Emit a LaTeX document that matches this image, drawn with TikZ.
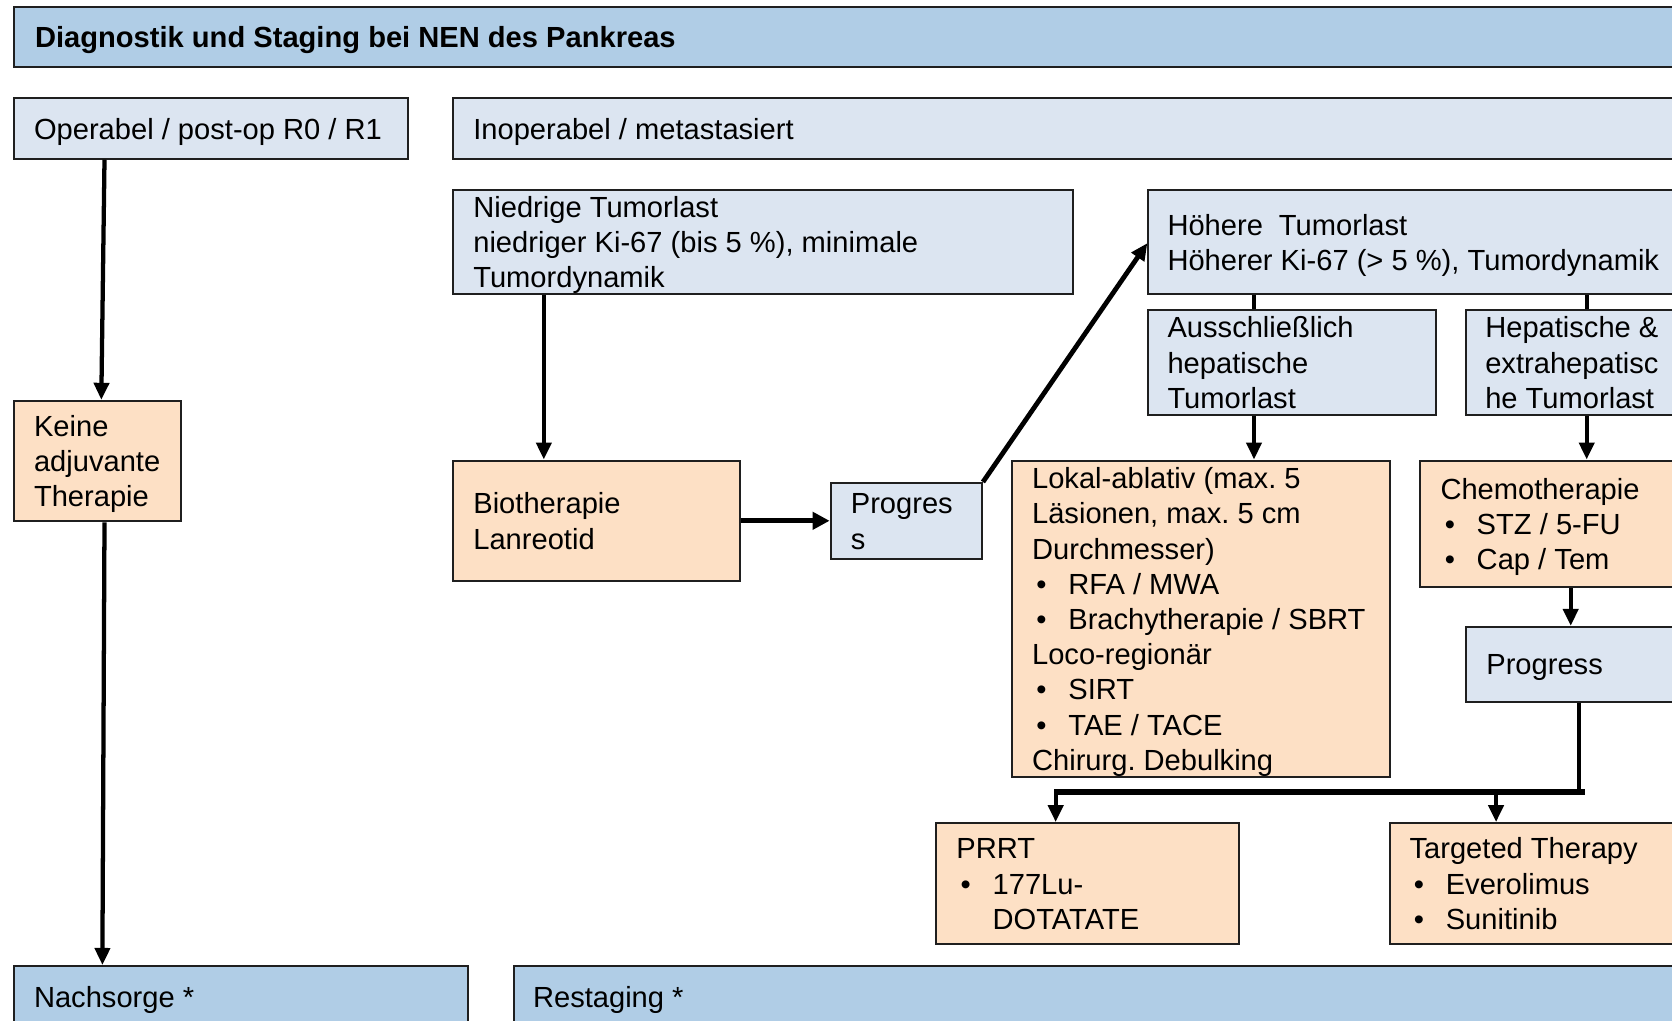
\documentclass[tikz,border=0pt]{standalone}
\usepackage{fontspec}
\setmainfont{Liberation Sans}
\usetikzlibrary{arrows.meta}
\frenchspacing
\newcommand\fs{\fontsize{27.3}{33}\selectfont}
\newcommand\bul{\makebox[34pt][l]{\hspace{4pt}•}}
\newcommand\indbul{\hspace*{34pt}}
% width, number of lines, content
\newcommand\bx[3]{\raisebox{0pt}[26pt][\dimexpr 33pt*(#2-1)+6pt\relax]{\makebox[#1pt][l]{\begin{tabular}[t]{@{}l@{}}#3\end{tabular}}}}
\definecolor{lb}{HTML}{DCE5F1}
\definecolor{hb}{HTML}{B0CDE6}
\definecolor{ob}{HTML}{FDE0C5}
\tikzset{
  box/.style={draw=black!88, line width=1.8pt, anchor=north west, inner xsep=19pt, inner ysep=0pt, font=\fs, text=black},
  lbox/.style={box, fill=lb},
  hbox/.style={box, fill=hb},
  obox/.style={box, fill=ob},
  arr/.style={line width=4pt, -{Triangle[length=16pt,width=14pt]}},
  con/.style={line width=4pt},
}
\begin{document}
\begin{tikzpicture}[x=1pt,y=-1pt]
\useasboundingbox (0,0) rectangle (1568,957);
\clip (0,0) rectangle (1568,957);
% boxes
\node[hbox, minimum width=1600pt, minimum height=56pt, inner xsep=20pt] (title) at (12,6) {\bx{1560}{1}{\bfseries Diagnostik und Staging bei NEN des Pankreas}};
\node[lbox, minimum width=370pt, minimum height=57pt] (oper) at (12,91) {\bx{332}{1}{Operabel / post-op R0 / R1}};
\node[lbox, minimum width=1200pt, minimum height=57pt] (inop) at (424,91) {\bx{1162}{1}{Inoperabel / metastasiert}};
\node[lbox, minimum width=581pt, minimum height=98pt] (nied) at (424,177) {\bx{543}{3}{Niedrige Tumorlast\\niedriger Ki-67 (bis 5 \%), minimale\\Tumordynamik}};
\node[lbox, minimum width=540pt, minimum height=98pt, inner xsep=18pt] (hoeh) at (1076,177) {\bx{504}{2}{Höhere\hspace{15pt}Tumorlast\\Höherer Ki-67 (> 5 \%), Tumordynamik}};
\node[lbox, minimum width=270pt, minimum height=98pt, inner xsep=18pt] (auss) at (1076,290) {\bx{234}{3}{Ausschließlich\\hepatische\\Tumorlast}};
\node[lbox, minimum width=240pt, minimum height=98pt, inner xsep=18pt] (hepa) at (1374,290) {\bx{204}{3}{Hepatische \&\\extrahepatisc\\he Tumorlast}};
\node[obox, minimum width=157pt, minimum height=113pt] (keine) at (12,375) {\bx{119}{3}{Keine\\adjuvante\\Therapie}};
\node[obox, minimum width=269pt, minimum height=113pt] (bio) at (424,431) {\bx{231}{2}{Biotherapie\\Lanreotid}};
\node[lbox, minimum width=142pt, minimum height=71pt] (prog1) at (778,452) {\bx{104}{2}{Progres\\s}};
\node[obox, minimum width=355pt, minimum height=297pt] (lokal) at (948,431) {\bx{317}{9}{Lokal-ablativ (max. 5\\Läsionen, max. 5 cm\\Durchmesser)\\\bul RFA / MWA\\\bul Brachytherapie / SBRT\\Loco-regionär\\\bul SIRT\\\bul TAE / TACE\\Chirurg. Debulking}};
\node[obox, minimum width=280pt, minimum height=119pt] (chemo) at (1331,431) {\bx{242}{3}{Chemotherapie\\\bul STZ / 5-FU\\\bul Cap / Tem}};
\node[lbox, minimum width=240pt, minimum height=70pt] (prog2) at (1374,587) {\bx{202}{1}{Progress}};
\node[obox, minimum width=284pt, minimum height=113pt] (prrt) at (877,771) {\bx{246}{3}{PRRT\\\bul 177Lu-\\\indbul DOTATATE}};
\node[obox, minimum width=310pt, minimum height=113pt, inner xsep=18pt] (targ) at (1303,771) {\bx{274}{3}{Targeted Therapy\\\bul Everolimus\\\bul Sunitinib}};
\node[hbox, minimum width=426pt, minimum height=58pt] (nach) at (12,905) {\bx{388}{1}{Nachsorge *}};
\node[hbox, minimum width=1120pt, minimum height=58pt, inner xsep=18pt] (rest) at (481,905) {\bx{1084}{1}{Restaging *}};
% connectors
\draw[arr] ([xshift=86pt]oper.south west) -- ([xshift=83pt]keine.north west);
\draw[arr] ([xshift=86pt]keine.south west) -- ([xshift=84pt]nach.north west);
\draw[arr] ([xshift=86pt]nied.south west) -- ([xshift=86pt]bio.north west);
\draw[line width=5pt, -{Triangle[length=16pt,width=16pt]}] (bio.east) -- (bio.east -| prog1.west);
\draw[line width=4.5pt, -{Triangle[length=16pt,width=14pt]}] (prog1.north east) -- ([yshift=-51pt]hoeh.north west);
\draw[con] ([xshift=100pt]hoeh.south west) -- ([xshift=100pt]auss.north west);
\draw[con] ([xshift=412pt]hoeh.south west) -- ([xshift=114pt]hepa.north west);
\draw[arr] ([xshift=100pt]auss.south west) -- ([xshift=228pt]lokal.north west);
\draw[arr] ([xshift=114pt]hepa.south west) -- ([xshift=157pt]chemo.north west);
\draw[arr] ([xshift=142pt]chemo.south west) -- ([xshift=99pt]prog2.north west);
\coordinate (jr) at (1484,743);
\coordinate (jl) at (990,743);
\coordinate (jm) at (1403,743);
\draw[line width=4pt] ([xshift=107pt]prog2.south west) -- ([xshift=107pt]prog2.south west |- jr);
\draw[line width=6pt] ([xshift=2pt]jr) -- ([xshift=-2pt]jl);
\draw[arr] (jl) -- ([xshift=113pt]prrt.north west);
\draw[arr] (jm) -- ([xshift=100pt]targ.north west);
\end{tikzpicture}
\end{document}
